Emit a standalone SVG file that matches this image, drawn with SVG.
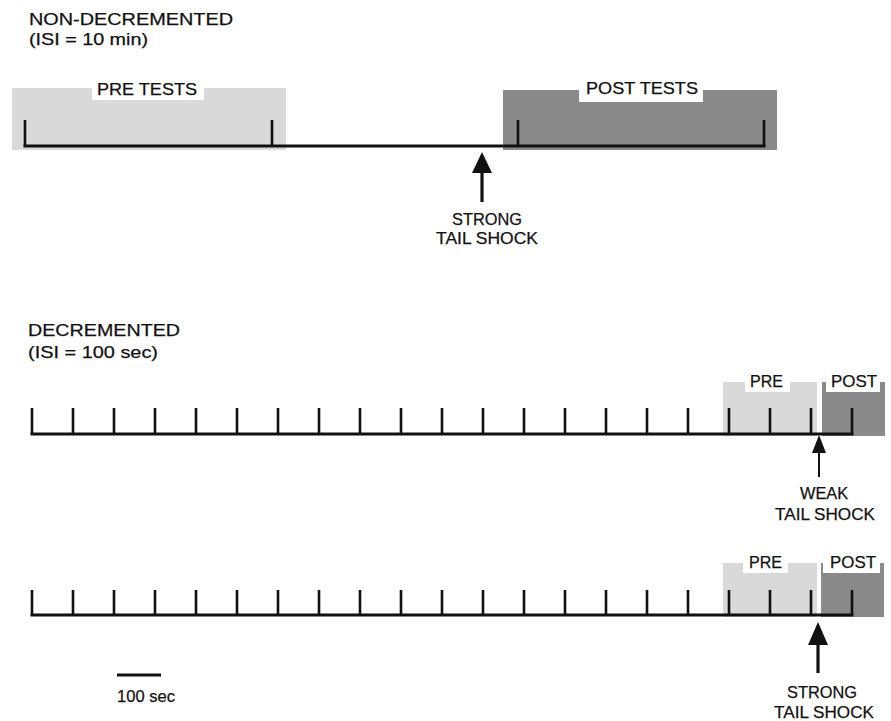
<svg xmlns="http://www.w3.org/2000/svg" width="891" height="721" viewBox="0 0 891 721">
<defs>
<style>
text{font-family:"Liberation Sans",Arial,sans-serif;fill:#111;stroke:#111;stroke-width:0.25;}
.t{font-size:17px;}
.l{font-size:17px;}
.m{text-anchor:middle;}
.light{fill:#d9d9d9;}
.dark{fill:#8a8a8a;}
.ax{stroke:#111;stroke-width:3;fill:none;stroke-linecap:square;}
.tk{stroke:#111;stroke-width:2.6;fill:none;}
.ar{fill:#111;stroke:none;}
.sh{stroke:#111;fill:none;}
</style>
</defs>
<rect width="891" height="721" fill="#fff"/>

<g id="nondecremented">
<text class="t" x="29" y="25" textLength="204" lengthAdjust="spacingAndGlyphs">NON-DECREMENTED</text>
<text class="t" x="29" y="45" textLength="119" lengthAdjust="spacingAndGlyphs">(ISI = 10  min)</text>
</g>

<g id="pre-tests">
<path class="light" d="M12,88 H92 V100 H204 V88 H286 V150 H12 Z"/>
<text class="l" x="97" y="95" textLength="100" lengthAdjust="spacingAndGlyphs">PRE  TESTS</text>
</g>
<g id="post-tests">
<path class="dark" d="M503,90 H579 V102 H703 V90 H777 V150 H503 Z"/>
<text class="l" x="586" y="94" textLength="112" lengthAdjust="spacingAndGlyphs">POST  TESTS</text>
</g>
<g id="timeline-top">
<path class="ax" d="M25,146 H764"/>
<path class="tk" d="M25,120 V146 M272,120 V146 M518,120 V146 M764,120 V146"/>
</g>

<g id="decremented">
<text class="t" x="28" y="336" textLength="152" lengthAdjust="spacingAndGlyphs">DECREMENTED</text>
<text class="t" x="28" y="358" textLength="130" lengthAdjust="spacingAndGlyphs">(ISI = 100  sec)</text>
</g>

<g id="pre-1">
<path class="light" d="M723,382 H745 V392 H790 V382 H817 V436 H723 Z"/>
<text class="l" x="750" y="387" textLength="33" lengthAdjust="spacingAndGlyphs">PRE</text>
</g>
<g id="post-1">
<path class="dark" d="M822,382 H826 V392 H880 V382 H885 V436 H822 Z"/>
<text class="l" x="831" y="387" textLength="46" lengthAdjust="spacingAndGlyphs">POST</text>
</g>
<g id="timeline-1">
<path class="ax" d="M32,434 H852"/>
<path class="tk" d="M32,408V434 M73,408V434 M114,408V434 M155,408V434 M196,408V434 M237,408V434 M278,408V434 M319,408V434 M360,408V434 M401,408V434 M442,408V434 M483,408V434 M524,408V434 M565,408V434 M606,408V434 M647,408V434 M688,408V434 M729,408V434 M770,408V434 M811,408V434 M852,408V434"/>
</g>

<g id="pre-2">
<path class="light" d="M723,563 H743 V573 H788 V563 H817 V617 H723 Z"/>
<text class="l" x="749" y="568" textLength="33" lengthAdjust="spacingAndGlyphs">PRE</text>
</g>
<g id="post-2">
<path class="dark" d="M821,563 H823 V573 H880 V563 H884 V617 H821 Z"/>
<text class="l" x="830" y="568" textLength="46" lengthAdjust="spacingAndGlyphs">POST</text>
</g>
<g id="timeline-2">
<path class="ax" d="M32,615 H852"/>
<path class="tk" d="M32,590V615 M73,590V615 M114,590V615 M155,590V615 M196,590V615 M237,590V615 M278,590V615 M319,590V615 M360,590V615 M401,590V615 M442,590V615 M483,590V615 M524,590V615 M565,590V615 M606,590V615 M647,590V615 M688,590V615 M729,590V615 M770,590V615 M811,590V615 M852,590V615"/>
</g>

<g id="label-strong-top">
<text class="l m" x="487" y="225" textLength="70" lengthAdjust="spacingAndGlyphs">STRONG</text>
<text class="l m" x="487" y="244" textLength="102" lengthAdjust="spacingAndGlyphs">TAIL SHOCK</text>
</g>
<g id="label-weak">
<text class="l m" x="824" y="499" textLength="48" lengthAdjust="spacingAndGlyphs">WEAK</text>
<text class="l m" x="825" y="520" textLength="100" lengthAdjust="spacingAndGlyphs">TAIL SHOCK</text>
</g>
<g id="label-strong-bottom">
<text class="l m" x="822" y="698" textLength="70" lengthAdjust="spacingAndGlyphs">STRONG</text>
<text class="l m" x="824" y="718" textLength="100" lengthAdjust="spacingAndGlyphs">TAIL SHOCK</text>
</g>

<g id="scale-bar">
<path stroke="#111" stroke-width="3" d="M117,675 H161"/>
<text class="l" x="117" y="702" textLength="58" lengthAdjust="spacingAndGlyphs">100 sec</text>
</g>

<g id="connectors">
<path class="sh" stroke-width="3.2" d="M482,170 V202"/>
<path class="ar" d="M482,152 L492,173 L472,173 Z"/>
<path class="sh" stroke-width="2" d="M819,450 V477"/>
<path class="ar" d="M819,435 L826,453 L812,453 Z"/>
<path class="sh" stroke-width="3.2" d="M818,642 V673"/>
<path class="ar" d="M818,622 L828,645 L808,645 Z"/>
</g>
</svg>
